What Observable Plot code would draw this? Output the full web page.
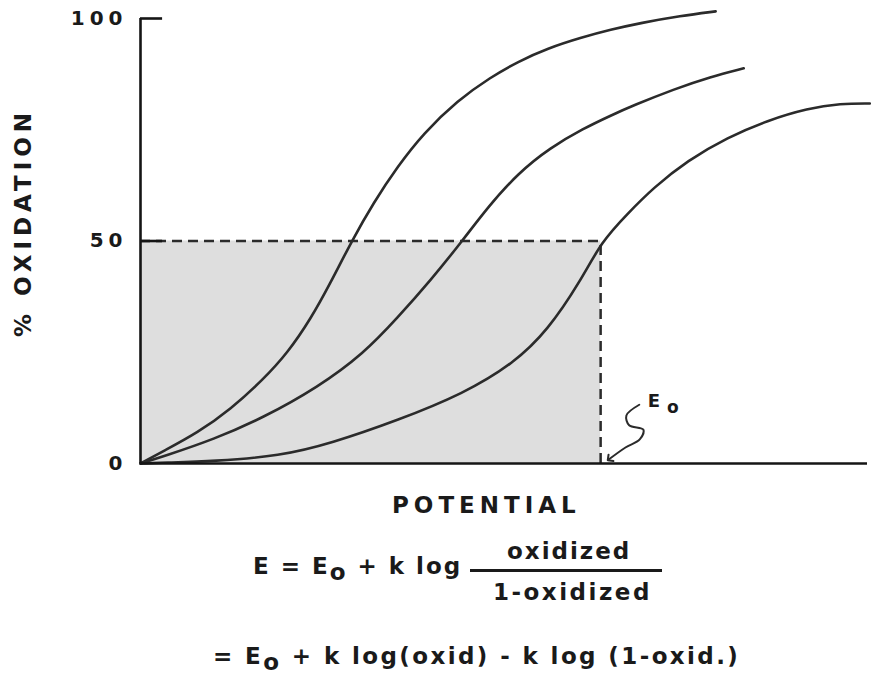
<!DOCTYPE html>
<html><head><meta charset="utf-8">
<script src="https://cdn.jsdelivr.net/npm/d3@7"></script>
<script src="https://cdn.jsdelivr.net/npm/@observablehq/plot@0.6"></script>
<style>
body{margin:0;background:#fff;}
#wrap{position:relative;width:879px;height:674px;overflow:hidden;font-family:"DejaVu Sans";font-weight:bold;color:#1a1a1a;}
#wrap svg{position:absolute;left:0;top:0;}
.t{position:absolute;line-height:1;white-space:nowrap;font-size:23px;}
.sub{position:relative;top:6px;}
.ytl text{letter-spacing:5px;}
</style></head><body><div id="wrap"></div>
<script>
// Values (potential in arbitrary units, E0 = 100)
const yTicks = [0, 50, 100];
const E0 = 100;
const halfOxidation = 50;
const xMax = 158;
const curve1 = [[0,0],[5,2.8],[12.4,6.9],[19.6,12.2],[26.7,18.9],[32,24.9],[37,32.5],[41.3,40.6],[45.9,50],[50.7,58.7],[55.9,66.8],[61.5,74.2],[68.9,81.6],[76.1,86.8],[82,90.3],[88.5,93.3],[95.7,95.7],[102.2,97.5],[108.7,99],[117.4,100.6],[125,101.6]];
const curve2 = [[0,0],[5,1.6],[15.9,5.4],[26.7,10.3],[38.5,17.1],[48.5,24.7],[55.9,32.8],[63,41.1],[70,50.1],[75.4,57.5],[82,65.2],[89.1,71],[96.3,75.3],[102.2,78.2],[107.2,80.5],[115.9,84.1],[123.9,86.9],[131.1,88.8]];
const curve3 = [[0,0],[5,0.2],[15.9,0.5],[30.4,1.7],[41.3,4.5],[55.9,9.7],[70.2,15.7],[81.1,22.5],[88.5,29.9],[95.7,41.1],[100.2,49.9],[105.9,56.2],[111.5,62],[118.9,68.1],[127.6,73.3],[136.3,77.1],[145,79.8],[152.2,80.9],[158.5,80.9]];
const squiggle = [[108.4,13.2],[105.6,10.8],[106.2,8.6],[109.3,7.6],[108.5,5.4],[105.4,3.6],[101.9,1.0]];
const e0Label = [{x:111.6, y:14.0, text:"E"}];
const e0Sub = [{x:115.7, y:12.6, text:"o"}];

const rows = [
  ...curve1.map(([x,y]) => ({series:"a", x, y})),
  ...curve2.map(([x,y]) => ({series:"b", x, y})),
  ...curve3.map(([x,y]) => ({series:"c", x, y}))
];
const ink = "#2b2b2b";

const chart = Plot.plot({
  width: 879, height: 480,
  marginLeft: 140, marginRight: 12, marginTop: 18, marginBottom: 17,
  style: {fontFamily: "DejaVu Sans", background: "transparent", color: "#1a1a1a"},
  x: {domain: [0, xMax], axis: null},
  y: {domain: [0, 100], axis: null},
  marks: [
    Plot.rect([{x1:0, x2:E0, y1:0, y2:halfOxidation}], {x1:"x1", x2:"x2", y1:"y1", y2:"y2", fill:"#dedede"}),
    Plot.ruleY([halfOxidation], {x1:0, x2:E0, stroke:ink, strokeWidth:2.5, strokeDasharray:"10,6"}),
    Plot.ruleX([E0], {y1:0, y2:halfOxidation, stroke:ink, strokeWidth:2.5, strokeDasharray:"10,6"}),
    Plot.line(rows, {x:"x", y:"y", z:"series", curve:"basis", stroke:ink, strokeWidth:2.6}),
    Plot.ruleX([0], {y1:0, y2:100, stroke:"#151515", strokeWidth:2.6}),
    Plot.ruleY([0], {x1:0, x2:xMax, stroke:"#151515", strokeWidth:2.6}),
    Plot.ruleY(yTicks.filter(d => d > 0), {x1:0, x2:4.8, stroke:"#151515", strokeWidth:2.6}),
    Plot.axisY({ticks: yTicks, tickSize: 0, tickPadding: 13, fontSize: 20, fontWeight: "bold", className: "ytl", tickFormat: d => String(d)}),
    Plot.line(squiggle, {x: d => d[0], y: d => d[1], curve:"catmull-rom", stroke:ink, strokeWidth:2, markerEnd:"arrow"}),
    Plot.text(e0Label, {x:"x", y:"y", text:"text", fontSize:18, fontWeight:"bold"}),
    Plot.text(e0Sub, {x:"x", y:"y", text:"text", fontSize:17, fontWeight:"bold"})
  ]
});

const wrap = document.getElementById("wrap");
wrap.appendChild(chart);

function addText(html, left, top, extra) {
  const d = document.createElement("div");
  d.className = "t";
  d.innerHTML = html;
  d.style.left = left + "px";
  d.style.top = top + "px";
  Object.assign(d.style, extra || {});
  wrap.appendChild(d);
  return d;
}

// y-axis title, rotated
const yl = addText("% OXIDATION", 0, 0, {letterSpacing:"5px"});
const w = yl.offsetWidth, h = yl.offsetHeight;
yl.style.left = (23 - w/2) + "px";
yl.style.top = (222 - h/2) + "px";
yl.style.transform = "rotate(-90deg)";

addText("POTENTIAL", 392, 493.5, {letterSpacing:"5px"});
addText('E = E<span class="sub">o</span> + k log', 253, 554.5, {letterSpacing:"2px"});
addText("oxidized", 507, 539.5, {letterSpacing:"2px"});
const bar = document.createElement("div");
Object.assign(bar.style, {position:"absolute", left:"470px", top:"569px", width:"192px", height:"2.5px", background:"#1a1a1a"});
wrap.appendChild(bar);
addText("1-oxidized", 493, 580.5, {letterSpacing:"2.5px"});
addText('= E<span class="sub">o</span> + k log(oxid) - k log (1-oxid.)', 213, 645, {letterSpacing:"2.4px"});
</script></body></html>
